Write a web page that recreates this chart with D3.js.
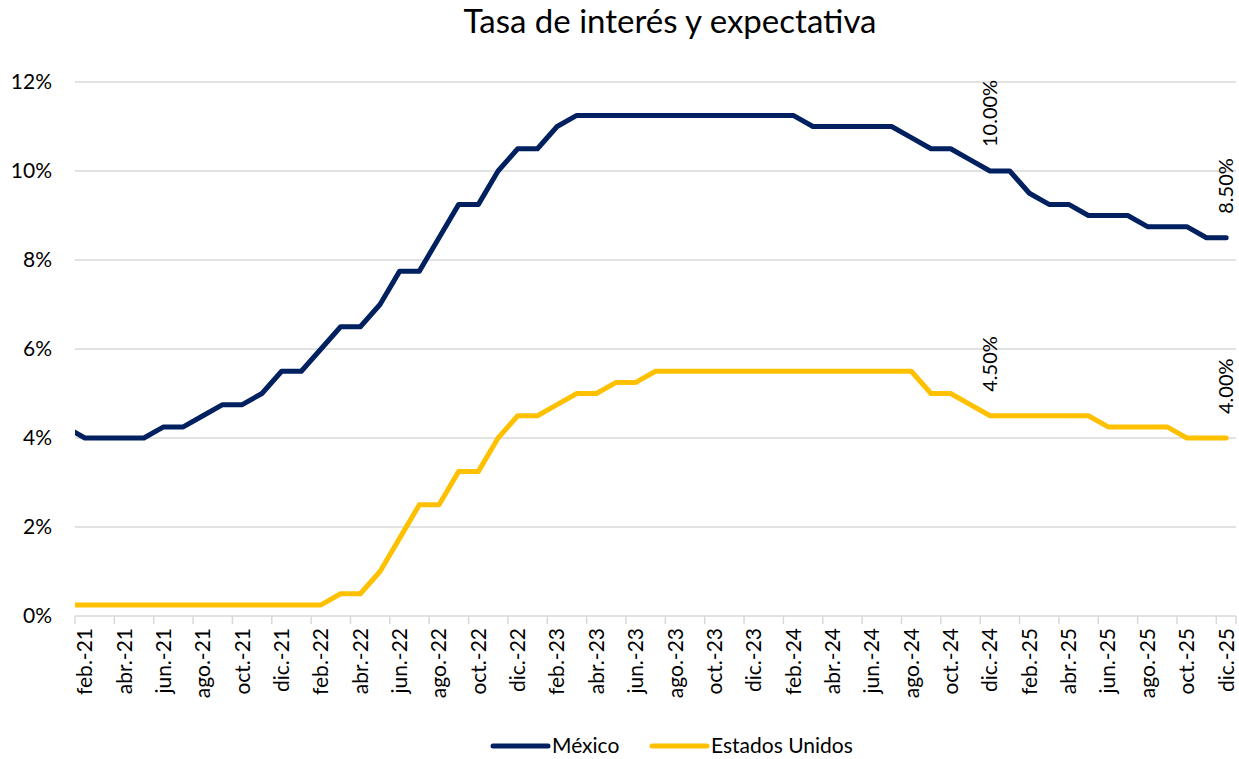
<!DOCTYPE html>
<html>
<head>
    <meta charset='utf-8'/>
    <title>Tasa de interés y expectativa</title>
    <style>
        body { margin: 0; background: #fff; }
        text { font-family: Lato, "Open Sans", sans-serif; fill: #000; }
        .grid line { stroke: #d9d9d9; stroke-width: 1.5; }
        .xaxis path, .xaxis line { stroke: #d9d9d9; stroke-width: 1.5; }
        .serie { fill: none; stroke-width: 5; stroke-linejoin: round; stroke-linecap: round; }
    </style>
</head>
<body>
<div id="chart"></div>

<script src="https://cdnjs.cloudflare.com/ajax/libs/d3/7.8.5/d3.min.js"></script>
<script type="text/javascript">

    // months (first one sits outside the visible axis)
    var months = [
        "ene.-21", "feb.-21", "mar.-21", "abr.-21", "may.-21", "jun.-21", "jul.-21", "ago.-21", "sep.-21", "oct.-21", "nov.-21", "dic.-21",
        "ene.-22", "feb.-22", "mar.-22", "abr.-22", "may.-22", "jun.-22", "jul.-22", "ago.-22", "sep.-22", "oct.-22", "nov.-22", "dic.-22",
        "ene.-23", "feb.-23", "mar.-23", "abr.-23", "may.-23", "jun.-23", "jul.-23", "ago.-23", "sep.-23", "oct.-23", "nov.-23", "dic.-23",
        "ene.-24", "feb.-24", "mar.-24", "abr.-24", "may.-24", "jun.-24", "jul.-24", "ago.-24", "sep.-24", "oct.-24", "nov.-24", "dic.-24",
        "ene.-25", "feb.-25", "mar.-25", "abr.-25", "may.-25", "jun.-25", "jul.-25", "ago.-25", "sep.-25", "oct.-25", "nov.-25", "dic.-25"
    ];

    var mexico = [
        4.25, 4.00, 4.00, 4.00, 4.00, 4.25, 4.25, 4.50, 4.75, 4.75, 5.00, 5.50,
        5.50, 6.00, 6.50, 6.50, 7.00, 7.75, 7.75, 8.50, 9.25, 9.25, 10.00, 10.50,
        10.50, 11.00, 11.25, 11.25, 11.25, 11.25, 11.25, 11.25, 11.25, 11.25, 11.25, 11.25,
        11.25, 11.25, 11.00, 11.00, 11.00, 11.00, 11.00, 10.75, 10.50, 10.50, 10.25, 10.00,
        10.00, 9.50, 9.25, 9.25, 9.00, 9.00, 9.00, 8.75, 8.75, 8.75, 8.50, 8.50
    ];

    var eeuu = [
        0.25, 0.25, 0.25, 0.25, 0.25, 0.25, 0.25, 0.25, 0.25, 0.25, 0.25, 0.25,
        0.25, 0.25, 0.50, 0.50, 1.00, 1.75, 2.50, 2.50, 3.25, 3.25, 4.00, 4.50,
        4.50, 4.75, 5.00, 5.00, 5.25, 5.25, 5.50, 5.50, 5.50, 5.50, 5.50, 5.50,
        5.50, 5.50, 5.50, 5.50, 5.50, 5.50, 5.50, 5.50, 5.00, 5.00, 4.75, 4.50,
        4.50, 4.50, 4.50, 4.50, 4.50, 4.25, 4.25, 4.25, 4.25, 4.00, 4.00, 4.00
    ];

    var yTicks = [0, 2, 4, 6, 8, 10, 12];
    var labeled = ["dic.-24", "dic.-25"];

    var series = [
        {name: "México", values: mexico, color: "#002060"},
        {name: "Estados Unidos", values: eeuu, color: "#FFC000"}
    ];

    // dims
    var svg_dx = 1239,
        svg_dy = 759,
        plot = {left: 75, right: 1236, top: 82, bottom: 616};

    var shown = months.slice(1);

    var x = d3.scaleBand()
        .domain(shown)
        .range([plot.left, plot.right])
        .paddingInner(0)
        .paddingOuter(0);

    var bw = x.bandwidth();

    // center of a month; january 2021 falls half a band left of the plot
    function xc(m) {
        if (m === months[0]) return plot.left - bw / 2;
        return x(m) + bw / 2;
    }

    var y = d3.scaleLinear()
        .domain([0, 12])
        .range([plot.bottom, plot.top]);

    var svg = d3.select("#chart")
        .append("svg")
        .attr("width", svg_dx)
        .attr("height", svg_dy);

    svg.append("clipPath")
        .attr("id", "clip")
        .append("rect")
        .attr("x", plot.left)
        .attr("y", 0)
        .attr("width", plot.right - plot.left)
        .attr("height", svg_dy);

    // title
    svg.append("text")
        .attr("x", 670)
        .attr("y", 33)
        .attr("text-anchor", "middle")
        .style("font-size", "33px")
        .text("Tasa de interés y expectativa");

    // gridlines
    svg.append("g")
        .attr("class", "grid")
        .selectAll("line")
        .data(yTicks.filter(d => d > 0))
        .enter()
        .append("line")
        .attr("x1", plot.left)
        .attr("x2", plot.right)
        .attr("y1", d => y(d))
        .attr("y2", d => y(d));

    // y labels
    svg.append("g")
        .selectAll("text")
        .data(yTicks)
        .enter()
        .append("text")
        .attr("x", 52)
        .attr("y", d => y(d))
        .attr("dy", "0.35em")
        .attr("text-anchor", "end")
        .style("font-size", "21px")
        .text(d => d + "%");

    // x axis: tick marks every two months, labels on the first month of each pair
    var boundaries = shown.filter((d, i) => i % 2 === 0);

    var xMarks = svg.append("g")
        .attr("class", "xaxis")
        .attr("transform", "translate(0," + plot.bottom + ")")
        .call(d3.axisBottom(x)
            .tickValues(boundaries)
            .tickSize(8)
            .tickSizeOuter(0)
            .tickFormat(""));

    xMarks.selectAll(".tick")
        .attr("transform", d => "translate(" + x(d) + ",0)");
    xMarks.select(".domain")
        .attr("d", "M" + plot.left + ",0H" + plot.right);
    xMarks.append("line")
        .attr("x1", plot.right).attr("x2", plot.right)
        .attr("y1", 0).attr("y2", 8);

    var xLabels = svg.append("g")
        .attr("transform", "translate(0," + plot.bottom + ")")
        .call(d3.axisBottom(x)
            .tickValues(boundaries)
            .tickSize(0)
            .tickSizeOuter(0));

    xLabels.select(".domain").remove();
    xLabels.selectAll("text")
        .attr("transform", "rotate(-90)")
        .attr("x", -12)
        .attr("y", 0)
        .attr("dy", "0.35em")
        .attr("text-anchor", "end")
        .style("font-family", "Lato, sans-serif")
        .style("font-size", "21px")
        .attr("fill", "#000");

    // lines
    var line = d3.line()
        .x(d => xc(d.m))
        .y(d => y(d.v));

    var lines = svg.append("g")
        .attr("clip-path", "url(#clip)");

    lines.selectAll("path")
        .data(series)
        .enter()
        .append("path")
        .attr("class", "serie")
        .attr("stroke", d => d.color)
        .attr("d", d => line(d.values.map((v, i) => ({m: months[i], v: v}))));

    // data labels
    var labels = [];
    series.forEach(s => {
        labeled.forEach(m => {
            labels.push({m: m, v: s.values[months.indexOf(m)]});
        });
    });

    svg.append("g")
        .selectAll("text")
        .data(labels)
        .enter()
        .append("text")
        .attr("transform", d => "translate(" + xc(d.m) + "," + (y(d.v) - 24) + ") rotate(-90)")
        .attr("dy", "0.35em")
        .style("font-size", "20px")
        .text(d => d.v.toFixed(2) + "%");

    // legend
    var legend = svg.append("g")
        .attr("transform", "translate(0,746)");

    var legendX = [493, 652];

    var item = legend.selectAll("g")
        .data(series)
        .enter()
        .append("g")
        .attr("transform", (d, i) => "translate(" + legendX[i] + ",0)");

    item.append("line")
        .attr("x1", 0)
        .attr("x2", 55)
        .attr("stroke", d => d.color)
        .attr("stroke-width", 5)
        .attr("stroke-linecap", "round");

    item.append("text")
        .attr("x", 59)
        .attr("dy", "0.35em")
        .style("font-size", "21px")
        .text(d => d.name);

</script>

</body>
</html>
